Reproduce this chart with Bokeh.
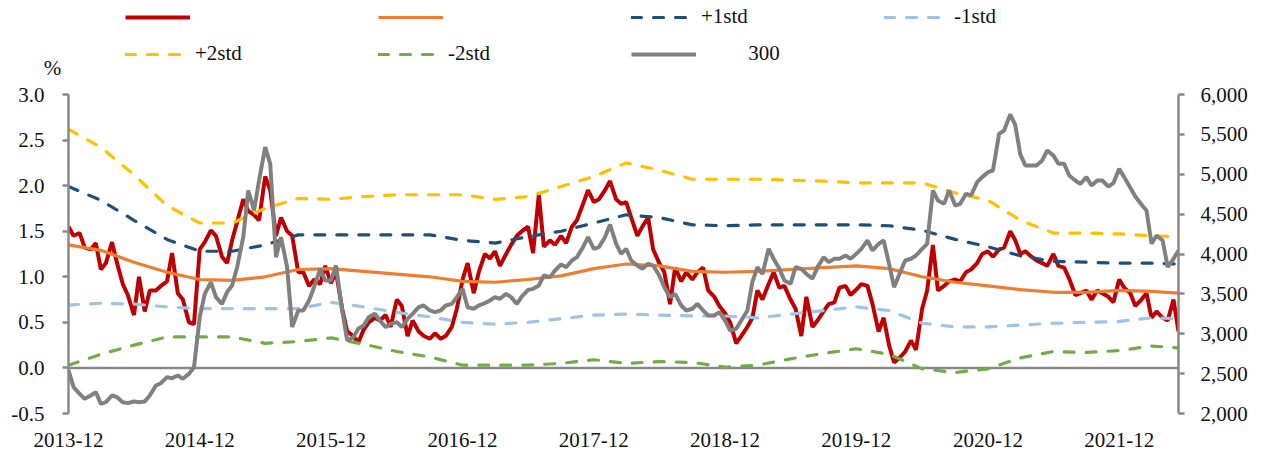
import pandas as pd
from bokeh.plotting import figure
from bokeh.layouts import column
from bokeh.models import (Range1d, LinearAxis, Legend, LegendItem, Span, Label,
                          FixedTicker, SingleIntervalTicker, DatetimeTickFormatter,
                          NumeralTickFormatter, ColumnDataSource)
from bokeh.embed import file_html
from bokeh.resources import INLINE

# ---------------- data (semi-monthly, Dec 2013 - May 2022) ----------------
ratio = [1.55, 1.45, 1.48, 1.32, 1.30, 1.37, 1.08, 1.15, 1.38, 1.15,
         0.92, 0.80, 0.58, 1.00, 0.62, 0.85, 0.85, 0.90, 0.95, 1.26,
         0.82, 0.75, 0.50, 0.48, 1.30, 1.38, 1.51, 1.45, 1.22, 1.15,
         1.40, 1.60, 1.85, 1.72, 1.68, 1.62, 2.10, 1.95, 1.45, 1.65,
         1.50, 1.45, 1.05, 1.05, 0.90, 0.97, 0.92, 1.12, 0.93, 1.05,
         0.65, 0.40, 0.35, 0.28, 0.42, 0.50, 0.55, 0.52, 0.58, 0.45,
         0.75, 0.68, 0.35, 0.52, 0.40, 0.35, 0.32, 0.38, 0.32, 0.35,
         0.45, 0.65, 0.97, 1.15, 0.82, 1.05, 1.25, 1.20, 1.28, 1.12,
         1.25, 1.35, 1.45, 1.50, 1.55, 1.26, 1.90, 1.33, 1.40, 1.35,
         1.45, 1.37, 1.55, 1.62, 1.80, 1.95, 1.82, 1.85, 1.95, 2.05,
         1.85, 1.80, 1.82, 1.65, 1.45, 1.55, 1.65, 1.30, 1.15, 1.05,
         0.70, 1.10, 0.95, 1.05, 0.97, 1.05, 1.10, 0.85, 0.78, 0.68,
         0.60, 0.50, 0.27, 0.35, 0.45, 0.55, 0.85, 0.75, 0.92, 1.05,
         0.88, 0.90, 0.75, 0.65, 0.35, 0.78, 0.45, 0.52, 0.62, 0.70,
         0.72, 0.88, 0.90, 0.80, 0.86, 0.92, 0.90, 0.70, 0.40, 0.55,
         0.25, 0.06, 0.12, 0.18, 0.30, 0.20, 0.65, 0.85, 1.35, 0.85,
         0.90, 0.95, 0.97, 0.95, 1.05, 1.08, 1.15, 1.25, 1.28, 1.22,
         1.30, 1.32, 1.50, 1.40, 1.25, 1.28, 1.22, 1.18, 1.15, 1.12,
         1.25, 1.12, 1.10, 0.98, 0.80, 0.82, 0.85, 0.75, 0.85, 0.82,
         0.78, 0.72, 0.97, 0.88, 0.82, 0.68, 0.75, 0.82, 0.55, 0.62,
         0.55, 0.52, 0.75, 0.40]

index300 = [2540, 2330, 2247, 2184, 2226, 2268, 2121, 2142, 2226, 2205,
            2142, 2130, 2150, 2142, 2150, 2226, 2351, 2380, 2456, 2443,
            2477, 2435, 2497, 2581, 3208, 3500, 3647, 3459, 3375, 3522,
            3605, 3835, 4211, 4796, 4546, 4922, 5340, 5131, 3960, 4211,
            3835, 3083, 3292, 3292, 3417, 3584, 3814, 3668, 3668, 3856,
            3292, 2915, 2957, 3062, 3104, 3208, 3250, 3166, 3083, 3124,
            3145, 3083, 3187, 3250, 3333, 3354, 3292, 3271, 3292, 3354,
            3375, 3459, 3563, 3333, 3313, 3354, 3384, 3417, 3459, 3438,
            3500, 3459, 3375, 3470, 3550, 3563, 3605, 3731, 3710, 3793,
            3868, 3835, 3919, 3960, 4086, 4211, 4065, 4086, 4211, 4370,
            4128, 4002, 4065, 3919, 3856, 3814, 3877, 3856, 3731, 3584,
            3459, 3500, 3354, 3292, 3313, 3375, 3292, 3229, 3229, 3271,
            3166, 3041, 3062, 3166, 3292, 3650, 3835, 3750, 4065, 3940,
            3814, 3668, 3626, 3835, 3814, 3751, 3689, 3835, 3960, 3898,
            3940, 3940, 3981, 3940, 4002, 4065, 4170, 4044, 4128, 4170,
            3877, 3584, 3772, 3919, 3940, 3981, 4065, 4128, 4796, 4671,
            4629, 4796, 4608, 4629, 4755, 4734, 4901, 4964, 5026, 5047,
            5507, 5549, 5750, 5620, 5250, 5110, 5110, 5110, 5173, 5298,
            5235, 5131, 5131, 4985, 4922, 4880, 4964, 4859, 4922, 4922,
            4847, 4888, 5068, 4964, 4830, 4721, 4621, 4546, 4128, 4232,
            4169, 3835, 3940, 4044]

# bands (quarterly samples)
mean_line = [1.35, 1.29, 1.16, 1.05, 0.97, 0.96, 1.00, 1.08, 1.09, 1.06,
             1.03, 1.00, 0.95, 0.94, 0.97, 1.01, 1.09, 1.14, 1.12, 1.06,
             1.05, 1.06, 1.08, 1.10, 1.12, 1.09, 1.00, 0.94, 0.90, 0.86,
             0.83, 0.83, 0.85, 0.84, 0.82]
plus1 = [1.99, 1.84, 1.62, 1.41, 1.28, 1.28, 1.35, 1.46, 1.46, 1.46,
         1.46, 1.46, 1.40, 1.37, 1.44, 1.50, 1.59, 1.68, 1.65, 1.57,
         1.56, 1.57, 1.57, 1.57, 1.57, 1.56, 1.51, 1.41, 1.33, 1.23,
         1.17, 1.16, 1.15, 1.15, 1.14]
minus1 = [0.69, 0.71, 0.70, 0.67, 0.65, 0.65, 0.65, 0.65, 0.72, 0.67,
          0.61, 0.56, 0.50, 0.48, 0.50, 0.54, 0.58, 0.59, 0.58, 0.57,
          0.57, 0.55, 0.59, 0.63, 0.67, 0.63, 0.49, 0.45, 0.45, 0.47,
          0.49, 0.50, 0.51, 0.55, 0.54]
plus2 = [2.62, 2.42, 2.12, 1.78, 1.59, 1.59, 1.75, 1.86, 1.85, 1.88,
         1.90, 1.90, 1.90, 1.85, 1.88, 1.99, 2.10, 2.25, 2.17, 2.07,
         2.07, 2.07, 2.06, 2.05, 2.03, 2.03, 2.03, 1.92, 1.84, 1.62,
         1.48, 1.48, 1.47, 1.45, 1.44]
minus2 = [0.03, 0.15, 0.25, 0.34, 0.34, 0.34, 0.27, 0.29, 0.33, 0.26,
          0.18, 0.12, 0.03, 0.03, 0.03, 0.05, 0.09, 0.05, 0.07, 0.06,
          0.01, 0.03, 0.10, 0.16, 0.21, 0.15, -0.01, -0.05, -0.01, 0.11,
          0.18, 0.17, 0.19, 0.24, 0.22]

tick_years = [2013, 2014, 2015, 2016, 2017, 2018, 2019, 2020, 2021]
legend_labels = [" ", " ", "+1std", "-1std", "+2std", "-2std", "\u00a0" * 9 + "300"]

dates = pd.date_range("2013-12-01", periods=len(ratio), freq="SMS")
band_dates = list(dates[::6]) + [dates[-1]]

dense = ColumnDataSource(dict(d=dates, r=ratio, g=index300))
bands = ColumnDataSource(dict(d=band_dates, m=mean_line, p1=plus1, m1=minus1,
                              p2=plus2, m2=minus2))

FONT = "Liberation Serif"
AX = "#898989"
TXT = "#111111"
DASH = "10 12"
W = 1268

styles = [
    dict(color="#C00000", line_width=4),
    dict(color="#ED7D31", line_width=3.2),
    dict(color="#1F4E79", line_width=3.2, line_dash=DASH, line_cap="round"),
    dict(color="#9DC3E6", line_width=3.2, line_dash=DASH, line_cap="round"),
    dict(color="#FFC000", line_width=3.2, line_dash=DASH, line_cap="round"),
    dict(color="#70AD47", line_width=3.2, line_dash=DASH, line_cap="round"),
    dict(color="#808080", line_width=4),
]

# ---------------- header: legend + unit ----------------
hdr = figure(width=W, height=80, x_range=Range1d(0, W), y_range=Range1d(80, 0),
             x_axis_type=None, y_axis_type=None, output_backend="svg",
             toolbar_location=None, min_border=0)
hdr.frame_align = False
hdr.outline_line_color = None
hdr.xgrid.visible = False
hdr.ygrid.visible = False

nan = float("nan")
proxy_src = ColumnDataSource(dict(x=[nan], y=[nan]))
proxies = [hdr.line("x", "y", source=proxy_src, **s) for s in styles]
items = [LegendItem(label=lab, renderers=[r]) for lab, r in zip(legend_labels, proxies)]
legend = Legend(items=items, ncols=4, orientation="horizontal",
                location=(125, 14), glyph_width=65, glyph_height=20,
                label_standoff=5, label_width=171, label_height=20, spacing=12,
                padding=0, margin=0, border_line_color=None,
                background_fill_alpha=0,
                label_text_font=FONT, label_text_font_size="21px",
                label_text_color=TXT, label_text_align="left")
hdr.add_layout(legend)

pct = Label(x=52, y=67, text="%", text_font=FONT, text_font_size="21px",
            text_color=TXT, text_align="center", text_baseline="middle")
hdr.add_layout(pct)

# ---------------- main chart ----------------
p = figure(width=W, height=373, x_axis_type="datetime",
           x_range=Range1d(dates[0], dates[-1]), y_range=Range1d(-0.5, 3.0),
           output_backend="svg", toolbar_location=None,
           min_border_left=68, min_border_right=90, min_border_top=14,
           min_border_bottom=40)
p.frame_align = False
p.extra_y_ranges = {"right": Range1d(2000, 6000)}
p.outline_line_color = None
p.xgrid.visible = False
p.ygrid.visible = False

zero = Span(location=0, dimension="width", line_color=AX, line_width=2.5, level="underlay")
p.add_layout(zero)

p.line("d", "r", source=dense, **styles[0])
p.line("d", "m", source=bands, **styles[1])
p.line("d", "p1", source=bands, **styles[2])
p.line("d", "m1", source=bands, **styles[3])
p.line("d", "p2", source=bands, **styles[4])
p.line("d", "m2", source=bands, **styles[5])
p.line("d", "g", source=dense, y_range_name="right", **styles[6])

xa = p.xaxis[0]
xa.ticker = FixedTicker(ticks=[pd.Timestamp(f"{y}-12-01").timestamp() * 1000 for y in tick_years])
fmt = "%Y-%m"
xa.formatter = DatetimeTickFormatter(years=fmt, months=fmt, days=fmt, hours=fmt,
                                     minutes=fmt, seconds=fmt, milliseconds=fmt,
                                     microseconds=fmt, minsec=fmt, hourmin=fmt)
xa.axis_line_color = None
xa.major_tick_line_color = None
xa.minor_tick_line_color = None
xa.major_label_standoff = 13

ya = p.yaxis[0]
ya.ticker = SingleIntervalTicker(interval=0.5, num_minor_ticks=0)
ya.formatter = NumeralTickFormatter(format="0.0")

ra = LinearAxis(y_range_name="right",
                ticker=SingleIntervalTicker(interval=500, num_minor_ticks=0),
                formatter=NumeralTickFormatter(format="0,0"))
p.add_layout(ra, "right")

for a in (ya, ra):
    a.axis_line_color = AX
    a.axis_line_width = 2.5
    a.major_tick_line_color = AX
    a.major_tick_line_width = 2.5
    a.major_tick_out = 6
    a.major_tick_in = 0
    a.minor_tick_line_color = None
ya.major_label_standoff = 18
ra.major_label_standoff = 16

for a in (xa, ya, ra):
    a.major_label_text_font = FONT
    a.major_label_text_font_size = "21px"
    a.major_label_text_color = TXT

layout = column(hdr, p, spacing=0)
open("out.html", "w").write(file_html(layout, INLINE))
